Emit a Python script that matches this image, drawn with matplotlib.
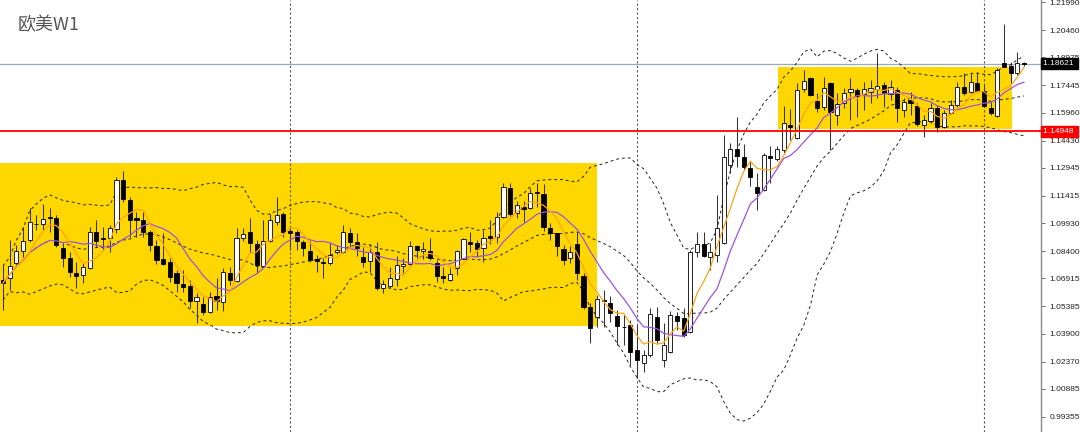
import numpy as np
import pandas as pd
import matplotlib
matplotlib.use("Agg")
import matplotlib.pyplot as plt
import matplotlib.transforms as mtransforms
from matplotlib.patches import Rectangle

# ---------------- data (weekly EURUSD candles) ----------------
opens = [1.0682, 1.0693, 1.0775, 1.0841, 1.0900, 1.0988, 1.0988, 1.1026, 1.1021, 1.0857,
         1.0802, 1.0721, 1.0710, 1.0748, 1.0944, 1.0911, 1.0911, 1.0961, 1.1228, 1.1119,
         1.1021, 1.1010, 1.0944, 1.0868, 1.0797, 1.0781, 1.0721, 1.0660, 1.0650, 1.0568,
         1.0551, 1.0508, 1.0595, 1.0562, 1.0721, 1.0677, 1.0911, 1.0944, 1.0879, 1.0759,
         1.0895, 1.0999, 1.1042, 1.0950, 1.0944, 1.0890, 1.0841, 1.0797, 1.0781, 1.0775,
         1.0835, 1.0835, 1.0939, 1.0890, 1.0808, 1.0786, 1.0835, 1.0639, 1.0650, 1.0688,
         1.0759, 1.0770, 1.0868, 1.0841, 1.0841, 1.0775, 1.0704, 1.0682, 1.0748, 1.0797,
         1.0890, 1.0884, 1.0857, 1.0922, 1.0917, 1.1026, 1.1184, 1.1048, 1.1081, 1.1075,
         1.1162, 1.1152, 1.0966, 1.0939, 1.0851, 1.0802, 1.0879, 1.0704, 1.0535, 1.0480,
         1.0573, 1.0557, 1.0486, 1.0428, 1.0437, 1.0300, 1.0229, 1.0273, 1.0480, 1.0246,
         1.0290, 1.0486, 1.0475, 1.0399, 1.0835, 1.0879, 1.0808, 1.0819, 1.0884, 1.1310,
         1.1397, 1.1353, 1.1293, 1.1190, 1.1173, 1.1359, 1.1342, 1.1392, 1.1528, 1.1457,
         1.1724, 1.1784, 1.1659, 1.1626, 1.1757, 1.1583, 1.1648, 1.1708, 1.1719, 1.1697,
         1.1708, 1.1724, 1.1746, 1.1697, 1.1719, 1.1610, 1.1664, 1.1632, 1.1528, 1.1550,
         1.1621, 1.1517, 1.1593, 1.1637, 1.1735, 1.1708, 1.1757, 1.1713, 1.1621, 1.1577,
         1.1866, 1.1850, 1.1812, 1.1864]
highs = [1.0764, 1.0900, 1.0873, 1.0971, 1.1075, 1.1037, 1.1097, 1.1075, 1.1037, 1.0884,
         1.0835, 1.0781, 1.0775, 1.0971, 1.1010, 1.0971, 1.0982, 1.1244, 1.1277, 1.1135,
         1.1053, 1.1053, 1.0955, 1.0900, 1.0939, 1.0802, 1.0737, 1.0737, 1.0682, 1.0611,
         1.0590, 1.0617, 1.0693, 1.0748, 1.0753, 1.0966, 1.0966, 1.1021, 1.0900, 1.1010,
         1.1042, 1.1135, 1.1053, 1.0971, 1.0955, 1.0900, 1.0895, 1.0819, 1.0802, 1.0884,
         1.0873, 1.0982, 1.0966, 1.0939, 1.0862, 1.0879, 1.0890, 1.0682, 1.0753, 1.0813,
         1.0802, 1.0895, 1.0873, 1.0890, 1.0911, 1.0791, 1.0753, 1.0748, 1.0846, 1.0911,
         1.0944, 1.0900, 1.0955, 1.1010, 1.1053, 1.1212, 1.1212, 1.1113, 1.1113, 1.1184,
         1.1212, 1.1206, 1.0993, 1.0939, 1.0873, 1.0868, 1.0944, 1.0721, 1.0557, 1.0600,
         1.0628, 1.0595, 1.0519, 1.0491, 1.0464, 1.0437, 1.0300, 1.0530, 1.0535, 1.0448,
         1.0513, 1.0508, 1.0530, 1.0846, 1.0944, 1.0944, 1.0884, 1.1146, 1.1474, 1.1430,
         1.1572, 1.1424, 1.1326, 1.1266, 1.1375, 1.1413, 1.1413, 1.1632, 1.1615, 1.1757,
         1.1828, 1.1790, 1.1703, 1.1790, 1.1763, 1.1703, 1.1730, 1.1784, 1.1730, 1.1763,
         1.1774, 1.1921, 1.1763, 1.1774, 1.1735, 1.1675, 1.1708, 1.1648, 1.1583, 1.1648,
         1.1637, 1.1610, 1.1664, 1.1763, 1.1812, 1.1812, 1.1817, 1.1746, 1.1653, 1.1839,
         1.2079, 1.1872, 1.1926, 1.1872]
lows = [1.0519, 1.0628, 1.0764, 1.0808, 1.0890, 1.0955, 1.0955, 1.0944, 1.0862, 1.0753,
        1.0699, 1.0639, 1.0666, 1.0742, 1.0862, 1.0846, 1.0835, 1.0939, 1.1108, 1.0917,
        1.0917, 1.0917, 1.0841, 1.0770, 1.0764, 1.0671, 1.0617, 1.0617, 1.0530, 1.0448,
        1.0491, 1.0502, 1.0519, 1.0513, 1.0655, 1.0671, 1.0895, 1.0835, 1.0721, 1.0748,
        1.0890, 1.0982, 1.0917, 1.0846, 1.0846, 1.0813, 1.0781, 1.0726, 1.0693, 1.0764,
        1.0824, 1.0830, 1.0862, 1.0813, 1.0753, 1.0726, 1.0628, 1.0611, 1.0639, 1.0650,
        1.0721, 1.0764, 1.0802, 1.0797, 1.0791, 1.0671, 1.0666, 1.0677, 1.0710, 1.0797,
        1.0835, 1.0808, 1.0781, 1.0879, 1.0884, 1.1021, 1.1032, 1.1021, 1.0999, 1.1070,
        1.1081, 1.0950, 1.0900, 1.0813, 1.0764, 1.0775, 1.0682, 1.0524, 1.0339, 1.0426,
        1.0426, 1.0453, 1.0328, 1.0328, 1.0219, 1.0153, 1.0180, 1.0262, 1.0339, 1.0208,
        1.0284, 1.0410, 1.0371, 1.0393, 1.0808, 1.0808, 1.0737, 1.0781, 1.0879, 1.1266,
        1.1299, 1.1282, 1.1195, 1.1064, 1.1168, 1.1212, 1.1332, 1.1375, 1.1446, 1.1452,
        1.1708, 1.1686, 1.1599, 1.1610, 1.1392, 1.1528, 1.1621, 1.1555, 1.1572, 1.1610,
        1.1648, 1.1675, 1.1626, 1.1664, 1.1544, 1.1572, 1.1583, 1.1523, 1.1463, 1.1539,
        1.1490, 1.1512, 1.1588, 1.1626, 1.1692, 1.1703, 1.1708, 1.1626, 1.1583, 1.1572,
        1.1844, 1.1757, 1.1801, 1.1850]
closes = [1.0666, 1.0759, 1.0841, 1.0895, 1.0999, 1.0990, 1.1015, 1.1021, 1.0873, 1.0802,
          1.0726, 1.0704, 1.0753, 1.0944, 1.0895, 1.0906, 1.0966, 1.1228, 1.1124, 1.1010,
          1.1010, 1.0944, 1.0873, 1.0791, 1.0770, 1.0699, 1.0666, 1.0644, 1.0568, 1.0590,
          1.0508, 1.0590, 1.0568, 1.0726, 1.0682, 1.0911, 1.0933, 1.0884, 1.0764, 1.0895,
          1.1010, 1.1037, 1.0944, 1.0939, 1.0895, 1.0857, 1.0791, 1.0786, 1.0775, 1.0819,
          1.0846, 1.0944, 1.0890, 1.0857, 1.0781, 1.0835, 1.0639, 1.0660, 1.0693, 1.0764,
          1.0770, 1.0868, 1.0846, 1.0851, 1.0802, 1.0704, 1.0693, 1.0715, 1.0841, 1.0906,
          1.0879, 1.0851, 1.0911, 1.0911, 1.1026, 1.1190, 1.1042, 1.1092, 1.1070, 1.1157,
          1.1157, 1.0971, 1.0939, 1.0868, 1.0791, 1.0835, 1.0721, 1.0535, 1.0420, 1.0579,
          1.0570, 1.0502, 1.0431, 1.0424, 1.0290, 1.0246, 1.0273, 1.0497, 1.0355, 1.0328,
          1.0491, 1.0459, 1.0382, 1.0835, 1.0879, 1.0813, 1.0835, 1.0966, 1.1353, 1.1397,
          1.1359, 1.1299, 1.1244, 1.1157, 1.1364, 1.1348, 1.1397, 1.1539, 1.1517, 1.1719,
          1.1768, 1.1692, 1.1621, 1.1730, 1.1599, 1.1643, 1.1703, 1.1724, 1.1686, 1.1724,
          1.1730, 1.1741, 1.1703, 1.1735, 1.1621, 1.1653, 1.1648, 1.1534, 1.1555, 1.1621,
          1.1517, 1.1593, 1.1637, 1.1735, 1.1703, 1.1763, 1.1713, 1.1632, 1.1593, 1.1828,
          1.1844, 1.1812, 1.1866, 1.18621]

year_separators = [43, 95, 147]          # bar index of the period separators
zones = [(-0.5, 89.0, 1.0432, 1.1322),   # (start bar, end bar, low, high)
         (116.1, 151.2, 1.1505, 1.1842)]
bid_price = 1.18621
level_price = 1.14948
ytick_vals = [1.21990, 1.20460, 1.18975, 1.17445, 1.15960, 1.14430, 1.12945, 1.11415,
              1.09930, 1.08400, 1.06915, 1.05385, 1.03900, 1.02370, 1.00885, 0.99355]
title = "欧美W1"

# ---------------- indicators ----------------
s = pd.Series(closes)
ma_fast = s.rolling(5, min_periods=1).mean()
ma_slow = s.rolling(10, min_periods=1).mean()
bb_mid = s.rolling(20, min_periods=1).mean()
bb_std = s.rolling(20, min_periods=2).std(ddof=0).bfill()
bb_up = bb_mid + 2 * bb_std
bb_lo = bb_mid - 2 * bb_std

# ---------------- figure ----------------
fig = plt.figure(figsize=(10.8, 4.32), dpi=100)
ax = fig.add_axes([0, 0, 1041 / 1080, 1])
ax.set_xlim(-0.45, 155.55)
ax.set_ylim(0.9853, 1.2210)

for x0, x1, lo, hi in zones:
    ax.add_patch(Rectangle((x0, lo), x1 - x0, hi - lo, facecolor="#FFD700",
                           edgecolor="none", zorder=0))

for sep in year_separators:
    ax.axvline(sep, color="#555555", lw=0.8, ls=(0, (2, 2)), zorder=1)

ax.axhline(bid_price, color="#9aaab8", lw=0.9, zorder=1)
ax.axhline(level_price, color="#ff0000", lw=1.3, zorder=5)

idx = np.arange(len(closes))
dash = (0, (3, 3))
for band in (bb_up, bb_mid, bb_lo):
    ax.plot(idx, band, color="#222222", lw=0.7, ls=dash, zorder=2)
ax.plot(idx, ma_slow, color="#9b55e0", lw=0.9, zorder=4)
ax.plot(idx, ma_fast, color="#ffa31a", lw=0.9, zorder=4)

o = np.array(opens); h = np.array(highs); l = np.array(lows); c = np.array(closes)
ax.vlines(idx, l, h, color="#333333", lw=0.75, zorder=3)
up = c >= o
bottoms = np.minimum(o, c)
heights = np.maximum(np.abs(c - o), 0.00001)
ax.bar(idx[up], heights[up], bottom=bottoms[up], width=0.62, facecolor="white",
       edgecolor="black", linewidth=0.6, zorder=3.5)
ax.bar(idx[~up], heights[~up], bottom=bottoms[~up], width=0.62, facecolor="black",
       edgecolor="black", linewidth=0.6, zorder=3.5)

# ---------------- axes styling ----------------
for sp in ("top", "left", "bottom"):
    ax.spines[sp].set_visible(False)
ax.spines["right"].set_color("#8c8c8c")
ax.spines["right"].set_linewidth(1.0)
ax.set_xticks([])
ax.yaxis.tick_right()
ax.set_yticks(ytick_vals)
ax.set_yticklabels([f"{v:.5f}" for v in ytick_vals])
ax.tick_params(axis="y", length=3, width=0.6, color="#555555", labelsize=6,
               labelcolor="#222222", pad=3)
for t in ax.get_yticklabels():
    t.set_fontfamily("Liberation Sans")

trans = mtransforms.blended_transform_factory(ax.transAxes, ax.transData)
ax.text(1.002, bid_price, f"{bid_price:.5f} ", transform=trans, fontsize=6,
        family="Liberation Sans", color="white", va="center", ha="left", zorder=10,
        bbox=dict(boxstyle="square,pad=0.25", facecolor="black", edgecolor="black"),
        clip_on=False)
ax.text(1.002, level_price, f"{level_price:.5f} ", transform=trans, fontsize=6,
        family="Liberation Sans", color="white", va="center", ha="left", zorder=10,
        bbox=dict(boxstyle="square,pad=0.25", facecolor="#ff0000", edgecolor="#ff0000"),
        clip_on=False)

fig.text(18 / 1080, 1 - 25 / 432, title, fontsize=13, color="#555555",
         family=["Noto Sans CJK SC", "DejaVu Sans"], va="center", ha="left")

fig.savefig("out.png", dpi=100)
